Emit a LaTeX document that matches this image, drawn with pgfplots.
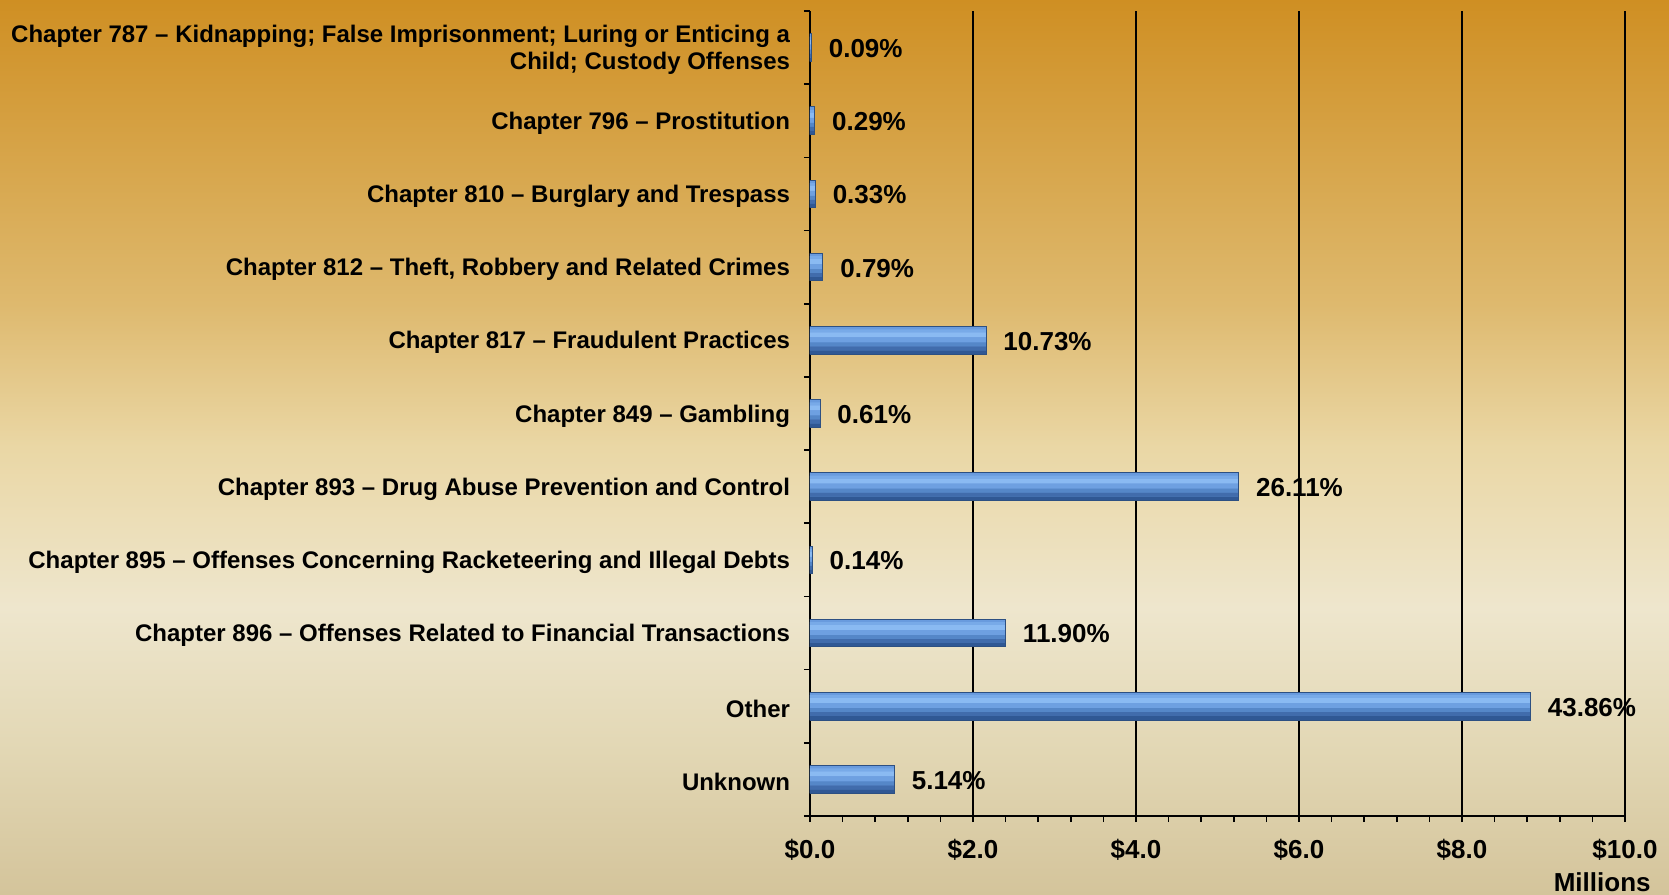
\documentclass[border=0pt]{standalone}
\usepackage{pgfplots}
\usepackage{pgfplotstable}
\pgfplotsset{compat=1.18}
\usepackage{fontspec}
\setmainfont{Liberation Sans}

\definecolor{bgA}{RGB}{212,196,155}
\definecolor{bgB}{RGB}{226,215,180}
\definecolor{bgC}{RGB}{238,230,205}
\definecolor{bgD}{RGB}{234,215,165}
\definecolor{bgE}{RGB}{222,185,110}
\definecolor{bgF}{RGB}{207,143,35}
\definecolor{barA}{RGB}{105,155,222}
\definecolor{barB}{RGB}{120,170,232}
\definecolor{barC}{RGB}{138,186,242}
\definecolor{barD}{RGB}{110,160,225}
\definecolor{barE}{RGB}{85,135,200}
\definecolor{barF}{RGB}{65,108,172}
\definecolor{barG}{RGB}{48,88,148}
\definecolor{barEdge}{RGB}{45,80,130}

\pgfdeclareverticalshading{bg}{100bp}{color(0bp)=(bgA); color(25bp)=(bgA); color(33bp)=(bgB); color(41bp)=(bgC); color(50bp)=(bgD); color(58bp)=(bgE); color(75bp)=(bgF); color(100bp)=(bgF)}

\newcommand{\lblfont}{\bfseries\fontsize{12}{13.8}\selectfont}
\newcommand{\valfont}{\bfseries\fontsize{13}{15}\selectfont}

% value in $ millions, row position, share in %
\pgfplotstableread{
x      y   share
1.036  0   5.14
8.84   1   43.86
2.40   2   11.90
0.028  3   0.14
5.26   4   26.11
0.123  5   0.61
2.16   6   10.73
0.159  7   0.79
0.066  8   0.33
0.058  9   0.29
0.018  10  0.09
}\spend

\pgfplotsset{band/.style n args={3}{xbar, bar shift=#1, bar width=#2, fill=#3, draw=none}}

\begin{document}
\begin{tikzpicture}
\shade[shading=bg] (-405pt,-39pt) rectangle (429.5pt,408pt);
\begin{axis}[at={(0,0)}, anchor=south west,
scale only axis, width=407.5pt, height=402.5pt,
xmin=0, xmax=10, ymin=-0.5, ymax=10.5,
xbar, bar width=13.8pt,
axis lines*=left, axis line style={-, line width=1pt},
xmajorgrids, grid style={black, line width=0.75pt},
tick align=outside, major tick length=3pt, minor tick length=3pt,
tick style={black, line width=0.8pt},
xtick={0,2,...,10}, minor x tick num=4,
/pgf/number format/assume math mode=true,
xticklabel={\$\pgfmathprintnumber[fixed,fixed zerofill,precision=1]{\tick}},
xticklabel style={font=\valfont, inner sep=0pt, yshift=-8.5pt},
ytick={-0.5,0.5,...,10.5}, yticklabels={},
extra y ticks={0,1,...,10},
extra y tick labels={Unknown, Other,
  Chapter 896 – Offenses Related to Financial Transactions,
  Chapter 895 – Offenses Concerning Racketeering and Illegal Debts,
  Chapter 893 – Drug Abuse Prevention and Control,
  Chapter 849 – Gambling,
  Chapter 817 – Fraudulent Practices,
  {Chapter 812 – Theft, Robbery and Related Crimes},
  Chapter 810 – Burglary and Trespass,
  Chapter 796 – Prostitution,
  {Chapter 787 – Kidnapping; False Imprisonment; Luring or Enticing a\\Child; Custody Offenses}},
extra y tick style={tick style={draw=none}},
yticklabel style={font=\lblfont, align=right, inner sep=0pt, xshift=-6.8pt, yshift=-1.2pt},
]
% base bar with value labels
\addplot[xbar, bar shift=0pt, bar width=13.8pt, fill=barA, draw=none,
  nodes near coords={\pgfplotspointmeta\%}, point meta=explicit symbolic,
  nodes near coords style={font=\valfont, anchor=west, inner sep=0pt, xshift=8.5pt, yshift=-0.5pt}]
  table[x=x, y=y, meta=share] {\spend};
% shading bands, top to bottom
\addplot[band={4.75pt}{1.5pt}{barB}] table[x=x, y=y] {\spend};
\addplot[band={2.75pt}{2.5pt}{barC}] table[x=x, y=y] {\spend};
\addplot[band={0.25pt}{2.5pt}{barD}] table[x=x, y=y] {\spend};
\addplot[band={-2pt}{2pt}{barE}] table[x=x, y=y] {\spend};
\addplot[band={-4pt}{2pt}{barF}] table[x=x, y=y] {\spend};
\addplot[band={-5.95pt}{1.9pt}{barG}] table[x=x, y=y] {\spend};
% outline
\addplot[xbar, bar shift=0pt, bar width=13.8pt, fill=none, draw=barEdge, line width=0.5pt] table[x=x, y=y] {\spend};
\end{axis}
\node[anchor=east, font=\valfont, inner sep=0pt] at (420.5pt,-33pt) {Millions};
\end{tikzpicture}
\end{document}
